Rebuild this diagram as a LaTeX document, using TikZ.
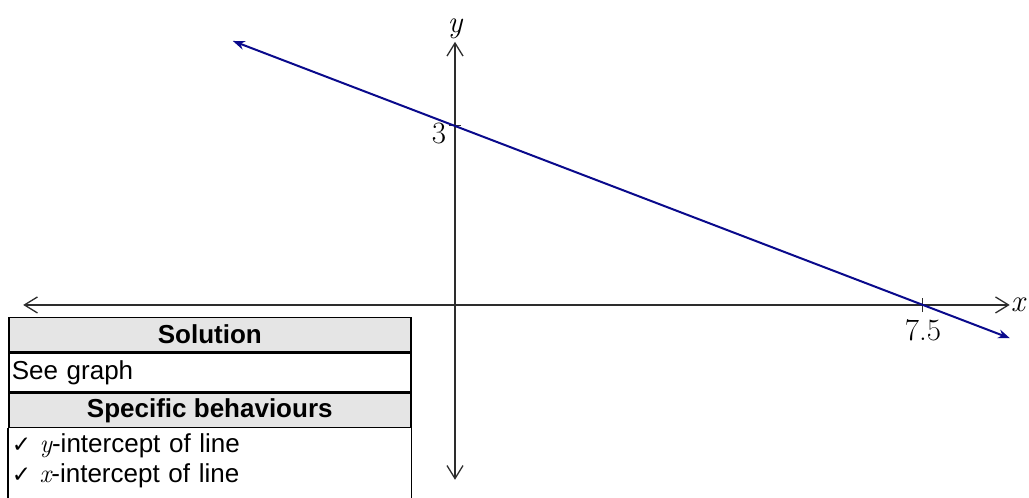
\documentclass[tikz,border=0pt]{standalone}
\usepackage{fontspec}
\newfontfamily\arial{Liberation Sans}
\newfontfamily\symfont{DejaVu Sans}
\usetikzlibrary{arrows.meta,positioning}
\definecolor{linenavy}{RGB}{10,10,140}
\definecolor{axisgray}{RGB}{45,45,45}
\definecolor{cellgray}{RGB}{229,229,229}
\tikzset{
  tableline/.style={line width=1.5pt, black},
  cellhead/.style={tableline, draw, fill=cellgray, minimum width=402pt, minimum height=34pt,
    inner sep=0pt, font=\arial\bfseries\fontsize{26}{30}\selectfont},
  cellbody/.style={tableline, draw, text width=396pt, inner xsep=3pt, inner ysep=0pt, align=left,
    font=\arial\fontsize{26}{30}\selectfont},
}
\newcommand{\tick}{{\symfont\fontsize{23}{26}\selectfont ✓}}
\newcommand{\var}[1]{{\rmfamily\itshape #1}}
\begin{document}
\begin{tikzpicture}[x=62.4pt, y=59.67pt, >={Straight Barb[length=13pt,width=16pt]},
    font=\fontsize{31}{34}\selectfont]
  \clip (-7.292,-3.234) rectangle (9.199,5.111);
  % axes
  \coordinate (xmin) at (-6.92,0);
  \coordinate (xmax) at (8.89,0);
  \coordinate (ymin) at (0,-2.93);
  \coordinate (ymax) at (0,4.41);
  \draw[<->, axisgray, line width=1.3pt] (xmin) -- (xmax);
  \draw[<->, axisgray, line width=1.3pt] (ymin) -- (ymax);
  \node (xlab) [right=1pt of xmax, inner sep=0pt] {\var{x}};
  \node (ylab) [above=3pt of ymax, inner sep=0pt] {\var{y}};
  % intercepts
  \draw[axisgray, line width=1pt] (-0.1,3) -- (0.1,3);
  \draw[axisgray, line width=1pt] (7.5,-0.12) -- (7.5,0.12);
  \node (ythree) [anchor=east, inner sep=0pt] at (-0.14,2.88) {3};
  \node (xseven) [inner sep=0pt] at (7.5,-0.43) {7.5};
  % line y = 3 - 0.4x
  \coordinate (lstart) at (-3.56,4.424);
  \coordinate (lend) at (8.894,-0.558);
  \draw[<->, >={Stealth[length=12pt,width=9pt]}, linenavy, line width=2pt] (lstart) -- (lend);
  % marking table
  \node (solhead) [cellhead, anchor=north west] at (-7.163,-0.201) {Solution};
  \node (solbody) [cellbody, minimum height=39pt, below=0pt of solhead] {See graph};
  \node (spechead) [cellhead, below=0pt of solbody] {Specific behaviours};
  \node (specbody) [cellbody, draw=none, anchor=north, inner ysep=4pt] at (spechead.south)
    {\tick\ \var{y}-intercept of line\\ \tick\ \var{x}-intercept of line};
  \draw[tableline] (spechead.south west) -- ++(0,-1.5);
  \draw[tableline] (spechead.south east) -- ++(0,-1.5);
\end{tikzpicture}
\end{document}
